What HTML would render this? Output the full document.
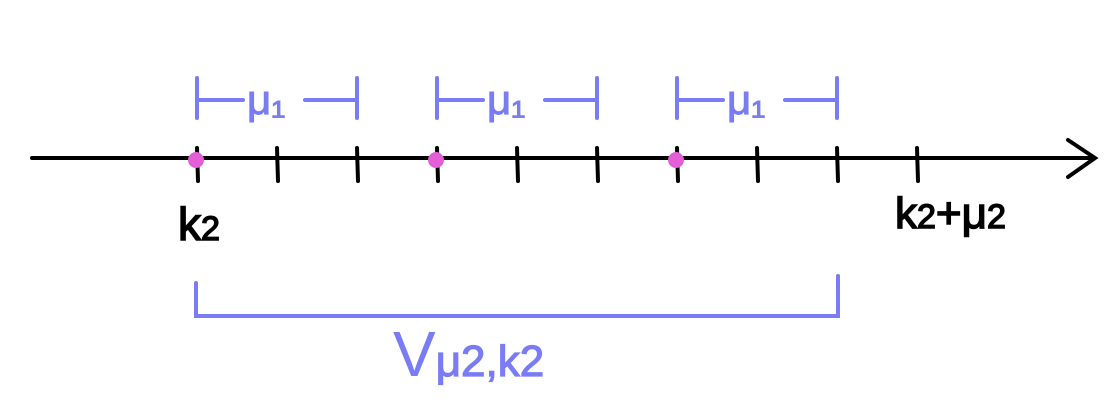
<!DOCTYPE html>
<html><head><meta charset="utf-8"><style>
html,body{margin:0;padding:0;background:#fff;}
svg{display:block;}
text{font-family:"Liberation Sans",sans-serif;}
</style></head><body>
<svg width="1119" height="410" viewBox="0 0 1119 410">
<g stroke="#000" stroke-width="4" stroke-linecap="round" fill="none">
<line x1="32" y1="158" x2="1093" y2="158"/>
<polyline points="1068,140 1095,158 1068,177"/>
</g>
<g id="ticks" stroke="#000" stroke-width="4" stroke-linecap="round"></g>
<g id="dots" fill="#e45fd6"></g>
<g id="brackets" stroke="#7a7cf5" stroke-width="4" stroke-linecap="round" fill="none"></g>
<g id="blabels"></g>
<text x="178" y="240" font-size="46" fill="#000" stroke="#000" stroke-width="1.5">k<tspan font-size="34">2</tspan></text>
<text x="895" y="228" font-size="44" fill="#000" stroke="#000" stroke-width="1.5">k<tspan font-size="34">2</tspan>+μ<tspan font-size="34">2</tspan></text>
<g stroke="#7a7cf5" stroke-width="4" stroke-linecap="round" fill="none">
<polyline points="196,283 196,316 838,316 838,276"/>
</g>
<text x="393" y="376" font-size="64" fill="#7a7cf5">V<tspan font-size="44" stroke="#7a7cf5" stroke-width="1.2">μ2,k2</tspan></text>
</svg>
<script>
const tickValues=[0,1,2,3,4,5,6,7,8,9];
const dotValues=[0,3,6];
const bracketStarts=[0,3,6];
const bracketLen=2;
const x=v=>197+v*80.0;
const NS="http://www.w3.org/2000/svg";
const tg=document.getElementById('ticks');
tickValues.forEach(v=>{const l=document.createElementNS(NS,'line');
l.setAttribute('x1',x(v));l.setAttribute('x2',x(v)+1);l.setAttribute('y1',148);l.setAttribute('y2',181);


tg.appendChild(l);});
const dg=document.getElementById('dots');
dotValues.forEach(v=>{const c=document.createElementNS(NS,'circle');
c.setAttribute('cx',x(v)-1);c.setAttribute('cy',160);c.setAttribute('r',8);


dg.appendChild(c);});
const bg=document.getElementById('brackets'),lg=document.getElementById('blabels');
bracketStarts.forEach(s=>{const a=x(s),b=x(s+bracketLen),m=(a+b)/2;
const p=document.createElementNS(NS,'path');
p.setAttribute('d',`M${a},78 V118 M${a},100 H${m-34} M${m+28},100 H${b} M${b},78 V118`);


bg.appendChild(p);
const t=document.createElementNS(NS,'text');
t.setAttribute('x',m-30);t.setAttribute('y',114);t.setAttribute('font-size','42');t.setAttribute('fill','#7a7cf5');
t.setAttribute('stroke','#7a7cf5');t.setAttribute('stroke-width','1');
t.textContent='μ₁';


lg.appendChild(t);});
</script>
</body></html>
